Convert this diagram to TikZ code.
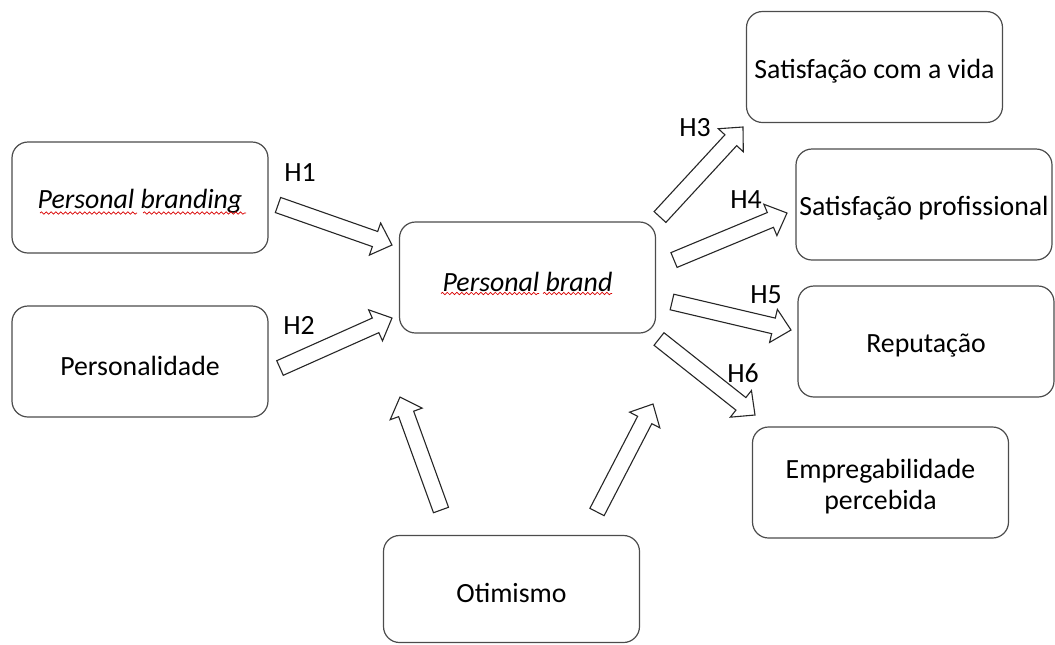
\documentclass[tikz,border=0pt]{standalone}
\usepackage{fontspec}
\setmainfont{Carlito}
\usetikzlibrary{calc,decorations.pathmorphing}

% text set a little below the box centre
\newcommand{\lowtext}[1]{\raisebox{-2pt}[\height][\depth]{#1}}

% hollow block arrow from #1 (tail) to #2 (tip)
\newcommand{\hollowarrow}[2]{%
  \coordinate (neck) at ($(#2)!9pt!(#1)$);
  \draw[hollow] ($(#1)!4pt!90:(#2)$) -- ($(neck)!4pt!-90:(#1)$)
    -- ($(neck)!8.5pt!-90:(#1)$) -- (#2) -- ($(neck)!8.5pt!90:(#1)$)
    -- ($(neck)!4pt!90:(#1)$) -- ($(#1)!4pt!-90:(#2)$) -- cycle;
}

\tikzset{
  box/.style={draw=black!70, line width=0.6pt, rounded corners=8pt, inner sep=0pt,
    minimum width=128pt, minimum height=55.5pt, align=center,
    font=\fontsize{13.9}{15.5}\selectfont},
  hollow/.style={draw=black!85, line width=0.55pt, fill=white},
  hlabel/.style={font=\fontsize{13.9}{15.5}\selectfont},
  squiggle/.style={red!85!black, line width=0.35pt, decorate,
    decoration={snake, amplitude=0.6pt, segment length=2.4pt}}
}

\begin{document}
\begin{tikzpicture}[x=0.5pt, y=-0.5pt]
    \useasboundingbox (0,0) rectangle (1055,644);

    % boxes
    \node[box] (branding) at (140,197.5) {\lowtext{\textit{Personal branding}}};
    \node[box] (perso) at (140,361.5) {\lowtext{Personalidade}};
    \node[box] (brand) at (527.5,277.5) {\lowtext{\textit{Personal brand}}};
    \node[box] (vida) at (874.5,67) {\lowtext{Satisfação com a vida}};
    \node[box] (prof) at (924,204.5) {\lowtext{Satisfação profissional}};
    \node[box] (reput) at (926,341.5) {\lowtext{Reputação}};
    \node[box] (empreg) at (880.5,482.5) {\lowtext{Empregabilidade}\\\lowtext{percebida}};
    \node[box, minimum height=53.5pt] (otim) at (511.5,589) {\lowtext{Otimismo}};

    % spell-check waves
    \draw[squiggle] (40,213) -- (137,213);
    \draw[squiggle] (143,213) -- (246,213);
    \draw[squiggle] (441,293.5) -- (539,293.5);
    \draw[squiggle] (543,293.5) -- (612,293.5);

    % arrow ends
    \coordinate (t1) at (278,205);  \coordinate (h1) at (392,245);
    \coordinate (t2) at (280,368);  \coordinate (h2) at (392,318);
    \coordinate (t3) at (660,217);  \coordinate (h3) at (743,127);
    \coordinate (t4) at (674,260);  \coordinate (h4) at (787,213);
    \coordinate (t5) at (672,302);  \coordinate (h5) at (791,330);
    \coordinate (t6) at (659,339);  \coordinate (h6) at (755,415);
    \coordinate (to1) at (441,510); \coordinate (ho1) at (400,397);
    \coordinate (to2) at (597,512); \coordinate (ho2) at (653,404);

    \hollowarrow{t1}{h1}
    \hollowarrow{t2}{h2}
    \hollowarrow{t3}{h3}
    \hollowarrow{t4}{h4}
    \hollowarrow{t5}{h5}
    \hollowarrow{t6}{h6}
    \hollowarrow{to1}{ho1}
    \hollowarrow{to2}{ho2}

    % hypothesis labels
    \node[hlabel] (l1) at (300,173) {H1};
    \node[hlabel] (l2) at (299,325) {H2};
    \node[hlabel] (l3) at (695,128) {H3};
    \node[hlabel] (l4) at (746,200) {H4};
    \node[hlabel] (l5) at (766,295) {H5};
    \node[hlabel] (l6) at (743,373) {H6};
\end{tikzpicture}
\end{document}
